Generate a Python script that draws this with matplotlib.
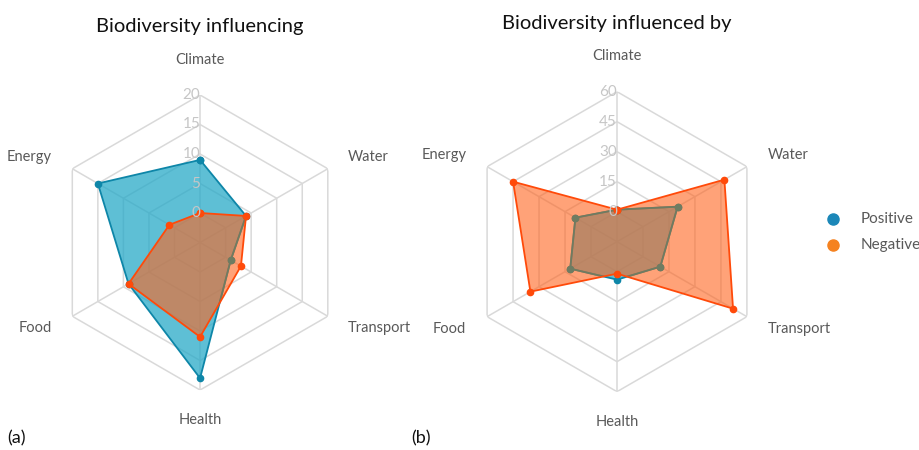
import numpy as np
import matplotlib
matplotlib.use("Agg")
import matplotlib.pyplot as plt

plt.rcParams['font.family'] = ['Lato', 'DejaVu Sans']

categories = ['Climate', 'Water', 'Transport', 'Health', 'Food', 'Energy']

# (a) Biodiversity influencing
pos_a = [9, 4, 1, 18, 9, 15]
neg_a = [0, 4, 3, 11, 9, 1]
ticks_a = [0, 5, 10, 15, 20]

# (b) Biodiversity influenced by
pos_b = [1, 20, 10, 4, 12, 9]
neg_b = [1, 47, 52, 1, 35, 45]
ticks_b = [0, 15, 30, 45, 60]

blue_line = '#0e86a8'
blue_fill = (40/255, 170/255, 200/255)
blue_under = '#6e7c62'   # blue line as seen through the orange fill
orange_line = '#ff4a0a'
orange_fill = (1.0, 100/255, 30/255)
grid_col = '#d9d9d9'
label_col = '#595959'
tick_col = '#c6c6c6'

angles = np.linspace(0, 2 * np.pi, len(categories), endpoint=False)
closed = np.append(angles, angles[0])

label_pos = {
    'Climate': dict(ha='center', va='bottom', k=0.19),
    'Water': dict(ha='left', va='center', k=0.16),
    'Transport': dict(ha='left', va='center', k=0.16),
    'Health': dict(ha='center', va='top', k=0.155),
    'Food': dict(ha='right', va='center', k=0.16),
    'Energy': dict(ha='right', va='center', k=0.16),
}


def radar(ax, pos, neg, ticks, title):
    step = ticks[1] - ticks[0]
    rmin = ticks[0] - step
    rmax = ticks[-1]
    ax.set_theta_offset(np.pi / 2)
    ax.set_theta_direction(-1)
    ax.set_ylim(rmin, rmax)
    ax.grid(False)
    ax.spines['polar'].set_visible(False)
    ax.set_xticks([])
    ax.set_yticks([])

    # hexagon grid
    for t in ticks:
        ax.plot(closed, [t] * len(closed), color=grid_col, lw=1.1, zorder=1)
    for a in angles:
        ax.plot([a, a], [rmin, rmax], color=grid_col, lw=1.1, zorder=1)

    p = np.append(pos, pos[0])
    n = np.append(neg, neg[0])
    ax.fill(closed, p, color=blue_fill, alpha=0.75, zorder=2, lw=0)
    ax.plot(closed, p, color=blue_line, lw=1.3, marker='o', ms=4.5, zorder=3)
    patch = ax.fill(closed, n, color=orange_fill, alpha=0.6, zorder=4, lw=0)[0]
    # positive line tinted where the orange fill lies over it
    tinted, = ax.plot(closed, p, color=blue_under, lw=1.3, marker='o', ms=4.5,
                      zorder=4.5)
    tinted.set_clip_path(patch)
    ax.plot(closed, n, color=orange_line, lw=1.3, marker='o', ms=4.5, zorder=5)

    for t in ticks:
        ax.text(0, t, str(t), ha='right', va='center', color=tick_col,
                fontsize=11, zorder=6)

    span = rmax - rmin
    for a, c in zip(angles, categories):
        opts = dict(label_pos[c])
        k = opts.pop('k')
        ax.text(a, rmax + span * k, c, color=label_col, fontsize=10.5,
                clip_on=False, **opts)

    ax.set_title(title, fontsize=14.5, color='#111111', pad=45)


fig = plt.figure(figsize=(9.2, 4.5), dpi=100)
ax1 = fig.add_axes([0.0571, 0.1333, 0.3207, 0.6556], projection='polar')
ax2 = fig.add_axes([0.5076, 0.1296, 0.3261, 0.6667], projection='polar')

radar(ax1, pos_a, neg_a, ticks_a, 'Biodiversity influencing')
radar(ax2, pos_b, neg_b, ticks_b, 'Biodiversity influenced by')

# legend
fig.lines.append(plt.Line2D([0.905], [0.513], marker='o', ms=8, color='#1b87b8',
                            transform=fig.transFigure))
fig.lines.append(plt.Line2D([0.905], [0.456], marker='o', ms=8, color='#f58220',
                            transform=fig.transFigure))
fig.text(0.935, 0.513, 'Positive', color=label_col, fontsize=11, va='center')
fig.text(0.935, 0.456, 'Negative', color=label_col, fontsize=11, va='center')

fig.text(0.008, 0.015, '(a)', fontsize=13, color='#111111')
fig.text(0.447, 0.015, '(b)', fontsize=13, color='#111111')

fig.savefig('out.png', dpi=100, facecolor='white')
